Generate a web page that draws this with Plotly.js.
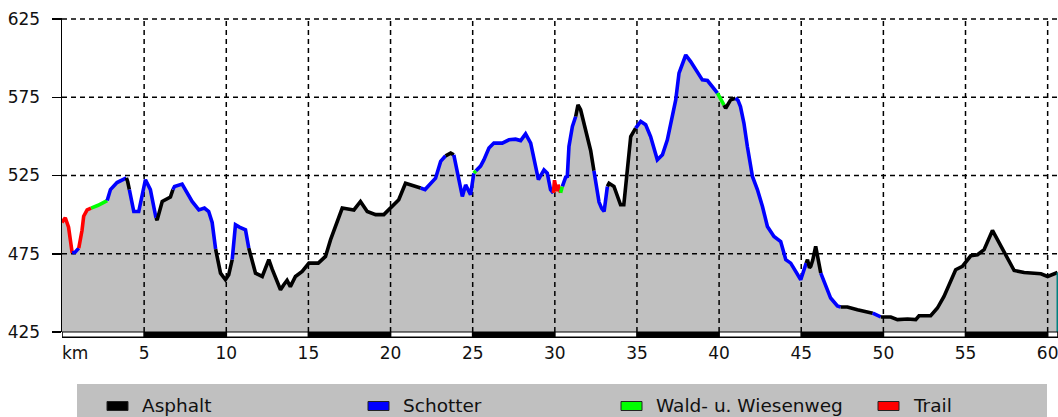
<!DOCTYPE html>
<html><head><meta charset="utf-8">
<script src="https://cdn.plot.ly/plotly-3.0.1.min.js"></script>
<style>html,body{margin:0;padding:0;background:#fff;overflow:hidden}#chart{width:1058px;height:417px}</style>
</head><body><div id="chart"></div>
<script>
// ---- data ----
const km = [0.00,0.20,0.40,0.62,0.80,1.02,1.22,1.32,1.53,1.77,2.20,2.75,2.95,3.35,3.60,3.92,4.00,4.10,4.37,4.67,4.87,5.08,5.38,5.63,5.72,5.79,6.10,6.60,6.75,6.85,7.31,7.62,7.92,8.33,8.67,8.93,9.14,9.35,9.44,9.65,9.95,10.15,10.36,10.56,10.80,11.17,11.37,11.78,12.19,12.59,12.80,13.30,13.50,13.70,13.90,14.21,14.62,15.03,15.60,16.04,16.35,16.65,17.06,17.77,18.17,18.58,19.09,19.59,20.00,20.50,20.91,21.42,21.83,22.10,22.74,23.05,23.35,23.66,23.85,24.26,24.37,24.57,24.87,25.07,25.20,25.48,25.68,25.99,26.29,26.80,27.21,27.61,27.92,28.22,28.53,28.73,28.94,29.00,29.34,29.54,29.74,29.91,29.98,30.10,30.20,30.35,30.46,30.66,30.76,30.86,31.07,31.27,31.41,31.57,31.98,32.18,32.38,32.69,32.85,33.00,33.20,33.30,33.60,34.00,34.20,34.42,34.62,34.92,35.05,35.23,35.53,35.83,36.24,36.55,36.85,37.05,37.36,37.56,37.97,38.27,38.68,38.98,39.29,39.59,39.90,40.05,40.30,40.40,40.70,41.00,41.15,41.30,41.51,41.72,42.03,42.33,42.64,42.94,43.34,43.75,44.06,44.36,44.66,44.97,45.17,45.30,45.38,45.50,45.58,45.70,45.88,46.19,46.39,46.79,47.20,47.40,47.81,48.42,49.23,49.35,49.84,50.45,50.86,51.47,51.97,52.17,52.88,53.29,53.69,54.10,54.40,54.81,55.12,55.32,55.73,56.13,56.64,57.05,57.56,57.96,58.57,59.18,59.59,60.00,60.41,60.60];
const elevation = [495,498,492,475.5,476,478.6,490,499,503,504.2,506,509,516,520.5,522,523.5,521,516,502,502,511.6,522.3,516,503,498,496.5,508.4,511.2,516,518,519.5,513.7,508.4,503,504.2,502,495,478,473.5,462.6,458.4,461.6,471.2,493.5,492,490.3,478.6,462.6,460.5,471.2,465,452,455.2,458,454,460.5,463.7,469,469,473.3,484,492.4,504.2,503,508.4,502,500,500,504.2,509.5,520,518,517,516,523.3,534,537.6,539.3,538.2,518,511.6,519,512.7,526.5,528,531,535,542.5,545.7,545.7,547.8,548.2,547.3,551.6,545.7,535,524.4,522.3,528.6,526.5,516,513.8,522,515,519,514,518,524,524.4,543.5,556.3,562.7,570.1,567,549.9,541,528,508,504,502,518,520,518,506.3,506.3,526.5,549.9,555.3,557,559.5,557.4,549.9,535,538.2,547.8,558.5,573.3,590.4,602,597.8,590.4,586.1,585.7,581.8,577.6,575,570,568,573.3,574.4,573,569,558.5,543.5,524.4,516,505.2,492.4,486,482.8,471.2,469,463.7,458.4,464.8,469,471.2,466,466.9,471,479.7,462.6,457.3,446.7,441.7,441,441,439.2,437.1,437,434.6,434.6,432.9,433.3,432.9,435.4,435.4,440.3,447.7,457.3,464.8,466.9,471.2,473.7,474.4,477.6,489.9,481.8,471.2,464.3,463,462.2,462.2,460.5,462.2,463];
// surface of the segment that starts at each point (A=Asphalt, S=Schotter, W=Wald, T=Trail)
const surface = "TTTSSTTTTWWSSSSAASSSSSSSAAAASSSSSSSSSAAAAASSSSAAAAAAAAAAAAAAAAAAAAAAAAAASSSSAASSSSSWSSSSSSSSSSSSSSSSSTTTTWSSSSSAAAAASSSSAAAAAAASSSSSSSSSSSSSSSSSWWAAASSSSSSSSSSSSSSSSAAAAAASSSSAAAASAAAAAAAAAAAAAAAAAAAAAAAAAAA".split("");
const surfaceKeys = ["A","S","W","T"];
const surfaceNames = ["Asphalt","Schotter","Wald- u. Wiesenweg","Trail"];
const surfaceColors = ["#000000","#0000ff","#00ff00","#ff0000"];
const endColor = "#008080";
const yTickVals = [425,475,525,575,625];
const xTickVals = [5,10,15,20,25,30,35,40,45,50,55,60];
const xTickText = ["5","10","15","20","25","30","35","40","45","50","55","60"];
const xUnit = "km";
const yMin = 425, yMax = 625.64, xMax = 60.63;

// ---- geometry ----
const W = 1058, H = 417;
const M = {l:62, r:0, t:18, b:85};
const PW = W - M.l - M.r, PH = H - M.t - M.b;
const px = v => (v - M.l) / PW;
const py = v => (H - M.b - v) / PH;

const FONT = "DejaVu Sans, Arial, sans-serif";
const TXT = "#111111";
const GRID = {color: "#000", width: 1.5, dash: "5px,4px"};

const traces = [];
// filled area
traces.push({x: km, y: elevation, type: "scatter", mode: "lines", fill: "tozeroy",
  fillcolor: "#c0c0c0", line: {width: 0, color: "#c0c0c0"}, hoverinfo: "skip", showlegend: false});
// dashed grid drawn above the fill
xTickVals.forEach(v => traces.push({x: [v, v], y: [yMin, yMax], type: "scatter", mode: "lines",
  line: GRID, hoverinfo: "skip", showlegend: false}));
yTickVals.slice(1).forEach(v => traces.push({x: [0, xMax], y: [v, v], type: "scatter", mode: "lines",
  line: GRID, hoverinfo: "skip", showlegend: false}));
// coloured profile line, one trace per run of the same surface
let start = 0;
for (let i = 1; i <= surface.length; i++) {
  if (i === surface.length || surface[i] !== surface[start]) {
    const end = Math.min(i, km.length - 1);
    const k = surfaceKeys.indexOf(surface[start]);
    traces.push({x: km.slice(start, end + 1), y: elevation.slice(start, end + 1),
      type: "scatter", mode: "lines", line: {color: surfaceColors[k], width: 3.6},
      name: surfaceNames[k], showlegend: false, hoverinfo: "x+y"});
    start = i;
  }
}
// closing edge at the end of the profile
const lastK = km[km.length - 1], lastE = elevation[elevation.length - 1];
traces.push({x: [lastK, lastK], y: [lastE, yMin], type: "scatter", mode: "lines",
  line: {color: endColor, width: 2}, showlegend: false, hoverinfo: "skip"});

const shapes = [];
// km strip under the plot: alternating white / black blocks of 5 km
shapes.push({type: "rect", xref: "x", yref: "paper", x0: 0, x1: xMax, y0: py(338), y1: py(331.5),
  fillcolor: "#000", line: {width: 0}, layer: "above"});
const blocks = [0].concat(xTickVals).concat([xMax]);
for (let i = 0; i < blocks.length - 1; i++) {
  if (i % 2 === 0) {
    shapes.push({type: "rect", xref: "x", yref: "paper", x0: blocks[i] + 0.05, x1: blocks[i+1] - 0.05,
      y0: py(336.5), y1: py(332.5), fillcolor: "#fff", line: {width: 0}, layer: "above"});
  }
}
// legend box
shapes.push({type: "rect", xref: "paper", yref: "paper", x0: px(77), x1: px(1047), y0: py(384), y1: py(418),
  fillcolor: "#c0c0c0", line: {width: 0}, layer: "above"});
const legendLeft = [107, 368, 621, 878];
const annotations = [];
surfaceNames.forEach((name, i) => {
  shapes.push({type: "rect", xref: "paper", yref: "paper", x0: px(legendLeft[i]), x1: px(legendLeft[i] + 21),
    y0: py(410.5), y1: py(401.5), fillcolor: surfaceColors[i], line: {color: "#222", width: 1}, layer: "above"});
  annotations.push({xref: "paper", yref: "paper", x: px(legendLeft[i] + 33), y: py(405), xanchor: "left",
    yanchor: "middle", text: name, showarrow: false, font: {family: FONT, size: 18.5, color: TXT}});
});
annotations.push({xref: "x", yref: "paper", x: 0, y: py(353), xanchor: "left", yanchor: "middle",
  xshift: -2, text: xUnit, showarrow: false, font: {family: FONT, size: 17, color: TXT}});

const layout = {
  width: W, height: H, margin: M, paper_bgcolor: "#fff", plot_bgcolor: "#fff",
  showlegend: false, font: {family: FONT, size: 17, color: TXT},
  xaxis: {range: [0, xMax], tickvals: xTickVals, ticktext: xTickText, ticks: "",
    showgrid: false, showline: false, zeroline: false, ticklabeloverflow: "allow",
    tickfont: {family: FONT, size: 17, color: TXT}, ticklabelstandoff: 9, fixedrange: true},
  yaxis: {range: [yMin, yMax], tickvals: yTickVals, ticks: "outside", ticklen: 9, tickwidth: 1.5, tickcolor: "#000",
    showgrid: false, showline: true, linecolor: "#000", linewidth: 1.5, zeroline: false, layer: "above traces",
    tickfont: {family: FONT, size: 17, color: TXT}, ticklabelstandoff: 8, fixedrange: true},
  shapes: shapes, annotations: annotations
};
Plotly.newPlot("chart", traces, layout, {displayModeBar: false, staticPlot: true});
</script></body></html>
